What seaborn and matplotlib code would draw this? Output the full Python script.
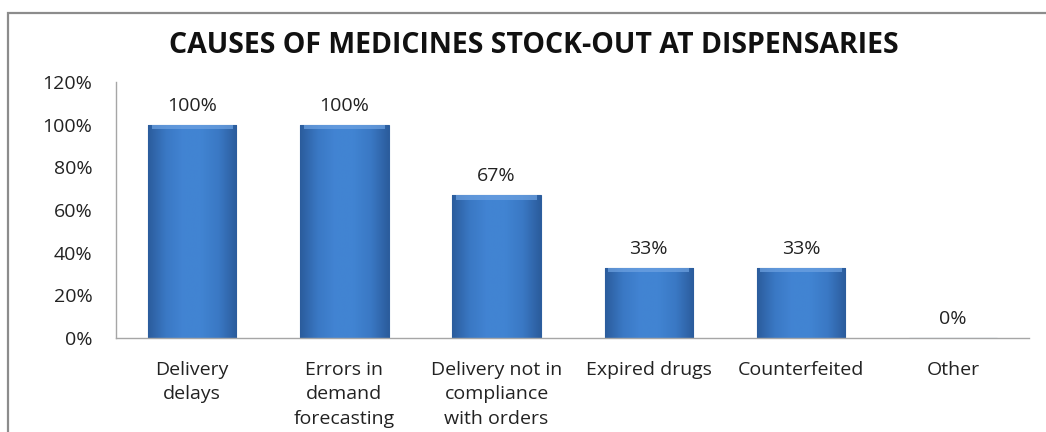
import numpy as np
import pandas as pd
import matplotlib
matplotlib.use("Agg")
import matplotlib.pyplot as plt
from matplotlib.patches import Rectangle
from matplotlib.colors import LinearSegmentedColormap
import seaborn as sns

categories = ["Delivery\ndelays", "Errors in\ndemand\nforecasting",
              "Delivery not in\ncompliance\nwith orders", "Expired drugs",
              "Counterfeited", "Other"]
values = [100, 100, 67, 33, 33, 0]
value_labels = ["100%", "100%", "67%", "33%", "33%", "0%"]
y_ticks = [0, 20, 40, 60, 80, 100, 120]
y_tick_labels = ["0%", "20%", "40%", "60%", "80%", "100%", "120%"]
title = "CAUSES OF MEDICINES STOCK-OUT AT DISPENSARIES"

sns.set_theme(style="white")
plt.rcParams["font.family"] = ["Open Sans", "DejaVu Sans"]

df = pd.DataFrame({"cause": categories, "share": values})

fig = plt.figure(figsize=(10.46, 4.32), dpi=100)
ax = fig.add_axes([0.111, 0.2176, 0.873, 0.5926])

sns.barplot(data=df, x="cause", y="share", color="#3E7FCF", width=0.58,
            saturation=1, ax=ax, edgecolor="#2C5E9E", linewidth=0.8)

# Bevelled shading on each bar: darker sides, lighter middle and top edge
cmap = LinearSegmentedColormap.from_list(
    "bevel", ["#2B5C9C", "#3A78C4", "#4284D3", "#4184D2", "#3A78C4", "#2B5C9C"])
grad = np.linspace(0, 1, 256).reshape(1, -1)
for patch in ax.patches:
    x0, y0 = patch.get_x(), patch.get_y()
    w, h = patch.get_width(), patch.get_height()
    if h <= 0:
        continue
    im = ax.imshow(grad, extent=[x0, x0 + w, y0, y0 + h], cmap=cmap,
                   aspect="auto", zorder=patch.get_zorder() + 0.1,
                   interpolation="bicubic")
    im.set_clip_path(patch)
    ax.add_patch(Rectangle((x0 + w * 0.04, y0 + h - 2.2), w * 0.92, 2.0,
                           facecolor="#6FA3E2", edgecolor="none", alpha=0.7,
                           zorder=patch.get_zorder() + 0.2))

ax.set_xlim(-0.5, len(categories) - 0.5)
ax.set_ylim(0, 120)
ax.set_yticks(y_ticks)
ax.set_yticklabels(y_tick_labels, fontsize=14, color="#222222")
ax.set_xticklabels(categories, fontsize=14, color="#222222",
                   linespacing=1.45)
ax.set_xlabel("")
ax.set_ylabel("")
ax.tick_params(axis="y", pad=17, length=0)
ax.tick_params(axis="x", pad=16.5, length=0)

for i, (v, lab) in enumerate(zip(values, value_labels)):
    ax.text(i, v + 4.5, lab, ha="center", va="bottom", fontsize=14,
            color="#222222")

for side in ["top", "right"]:
    ax.spines[side].set_visible(False)
for side in ["left", "bottom"]:
    ax.spines[side].set_color("#A6A6A6")
    ax.spines[side].set_linewidth(1.0)

fig.text(0.51, 0.895, title, ha="center", va="center", fontsize=20.5,
         fontweight="bold", color="#111111")

# Chart frame
fig.add_artist(Rectangle((8 / 1046, -0.1), 1.2, 1 - 13 / 432 + 0.1,
                         transform=fig.transFigure, fill=False,
                         edgecolor="#8C8C8C", linewidth=1.6))

fig.savefig("out.png", dpi=100)
